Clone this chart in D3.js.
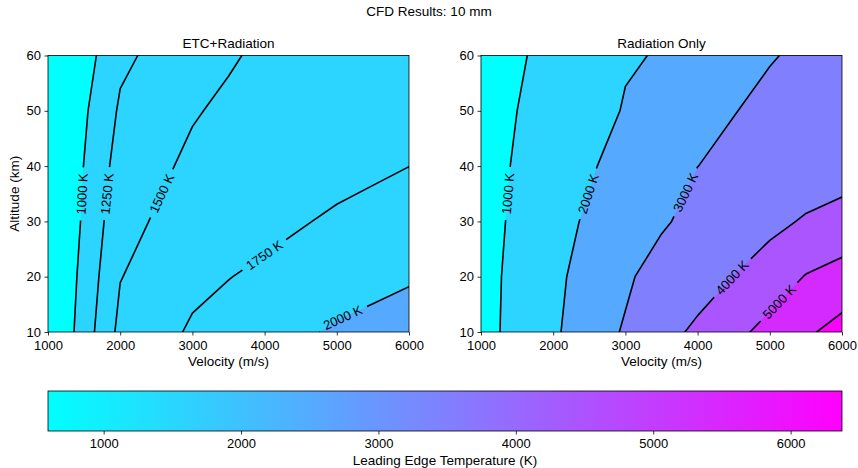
<!DOCTYPE html>
<html lang="en">
<head>
<meta charset="utf-8">
<style>
  body { margin: 0; background: #fff; }
  text { font-family: "Liberation Sans", Arial, sans-serif; fill: #000; }
  .tick text { font-size: 13px; }
  .tick line { stroke: #000; stroke-width: 0.8; }
  .title { font-size: 13.5px; }
  .clabel { font-size: 13px; }
  .frame { fill: none; stroke: #000; stroke-width: 0.8; }
  .cline { fill: none; stroke: #000; stroke-width: 1.6; stroke-linejoin: round; }
</style>
</head>
<body>
<svg width="858" height="468"></svg>
<script src="https://cdn.jsdelivr.net/npm/d3@7"></script>
<script>
// grid of the CFD runs
var velocities = [1000, 2000, 3000, 3500, 4000, 5000, 5500, 6000];
var altitudes = [10, 20, 30, 40, 50, 60];

// leading edge temperature (K), one row per altitude, one column per velocity
var etcRadiation = [
    [682, 1565, 1779, 1840, 1900, 2030, 2070, 2110],
    [672, 1492, 1694, 1744, 1794, 1890, 1933, 1976],
    [655, 1421, 1621, 1652, 1683, 1785, 1823, 1860],
    [662, 1351, 1550, 1583, 1615, 1672, 1711, 1749],
    [649, 1282, 1480, 1545, 1610, 1650, 1675, 1700],
    [590, 1202, 1400, 1473, 1546, 1600, 1625, 1650]
];
var radiationOnly = [
    [691, 1866, 3104, 3647, 4190, 5306, 5840, 6374],
    [681, 1807, 2837, 3450, 3548, 4479, 5045, 5300],
    [600, 1777, 2396, 2868, 3340, 3751, 4097, 4443],
    [639, 1531, 2300, 2650, 2995, 3400, 3420, 3436],
    [550, 1450, 2045, 2370, 2700, 3236, 3330, 3420],
    [595, 1227, 1943, 2037, 2131, 2941, 3164, 3388]
];

var fillLevels = [0, 1000, 2000, 3000, 4000, 5000, 6000, 7000];
var etcLevels = [1000, 1250, 1500, 1750, 2000];
var radLevels = [1000, 2000, 3000, 4000, 5000, 6000];

// where the inline labels sit: [level, velocity, altitude]
var etcLabelSpots = [[1000, 1470, 35], [1250, 1815, 35], [1500, 2590, 35], [1750, 3990, 24], [2000, 5080, 12.6]];
var radLabelSpots = [[1000, 1380, 35], [2000, 2480, 35], [3000, 3840, 35.2], [4000, 4470, 20], [5000, 5130, 15.4]];

var velocityTicks = [1000, 2000, 3000, 4000, 5000, 6000];
var altitudeTicks = [10, 20, 30, 40, 50, 60];
var colorbarTicks = [1000, 2000, 3000, 4000, 5000, 6000];
var tempMin = 595, tempMax = 6374;

// matplotlib "cool"
function cool(t) { return d3.rgb(255 * t, 255 * (1 - t), 255).formatHex(); }

var svg = d3.select("svg");
var plotTop = 55.5, plotBottom = 332, plotWidth = 361;

svg.append("text").attr("class", "title")
    .attr("x", 429).attr("y", 15.5).attr("text-anchor", "middle")
    .text("CFD Results: 10 mm");

var defs = svg.append("defs");

function drawPanel(idx, left, title, grid, levels, spots, showYLabel) {
    var x = d3.scaleLinear().domain([1000, 6000]).range([left, left + plotWidth]);
    var y = d3.scaleLinear().domain([10, 60]).range([plotBottom, plotTop]);
    var nx = velocities.length, ny = altitudes.length;
    var values = [].concat.apply([], grid);

    // grid index (cell centres at i + 0.5) -> data value
    var gx = d3.scaleLinear().domain(velocities.map(function (d, i) { return i + 0.5; })).range(velocities);
    var gy = d3.scaleLinear().domain(altitudes.map(function (d, i) { return i + 0.5; })).range(altitudes);
    var path = d3.geoPath(d3.geoTransform({
        point: function (px, py) { this.stream.point(x(gx(px)), y(gy(py))); }
    }));
    var contours = d3.contours().size([nx, ny]).smooth(true);

    defs.append("clipPath").attr("id", "clip" + idx)
        .append("rect")
        .attr("x", x(1000)).attr("y", y(60))
        .attr("width", x(6000) - x(1000)).attr("height", y(10) - y(60));

    var g = svg.append("g").attr("clip-path", "url(#clip" + idx + ")");
    g.append("rect")
        .attr("x", x(1000)).attr("y", y(60))
        .attr("width", x(6000) - x(1000)).attr("height", y(10) - y(60))
        .attr("fill", cool(0));

    var nb = fillLevels.length - 2;
    fillLevels.slice(1, fillLevels.length - 1).forEach(function (lv, i) {
        g.append("path")
            .attr("d", path(contours.contour(values, lv)))
            .attr("fill", cool((i + 1) / nb));
    });

    var mask = defs.append("mask").attr("id", "mask" + idx)
        .attr("maskUnits", "userSpaceOnUse")
        .attr("x", 0).attr("y", 0).attr("width", 858).attr("height", 468);
    mask.append("rect").attr("x", 0).attr("y", 0).attr("width", 858).attr("height", 468).attr("fill", "#fff");

    var lines = g.append("g").attr("mask", "url(#mask" + idx + ")");
    var lineNodes = {};
    levels.forEach(function (lv) {
        lineNodes[lv] = lines.append("path")
            .attr("class", "cline")
            .attr("d", path(contours.contour(values, lv)))
            .node();
    });

    var labelG = svg.append("g");
    spots.forEach(function (s) {
        var node = lineNodes[s[0]];
        var tx = x(s[1]), ty = y(s[2]);
        var L = node.getTotalLength(), best = 0, bestD = Infinity;
        for (var l = 0; l <= L; l += 0.5) {
            var p = node.getPointAtLength(l);
            var d = (p.x - tx) * (p.x - tx) + (p.y - ty) * (p.y - ty);
            if (d < bestD) { bestD = d; best = l; }
        }
        var p0 = node.getPointAtLength(Math.max(0, best - 3));
        var p1 = node.getPointAtLength(Math.min(L, best + 3));
        var pc = node.getPointAtLength(best);
        var ang = Math.atan2(p1.y - p0.y, p1.x - p0.x) * 180 / Math.PI;
        if (ang > 90) ang -= 180;
        if (ang <= -90) ang += 180;
        var t = labelG.append("text")
            .attr("class", "clabel")
            .attr("text-anchor", "middle")
            .attr("dy", "0.36em")
            .attr("transform", "translate(" + pc.x + "," + pc.y + ") rotate(" + ang + ")")
            .text(s[0] + " K");
        var w = t.node().getComputedTextLength() + 12;
        mask.append("rect")
            .attr("x", -w / 2).attr("y", -6).attr("width", w).attr("height", 12)
            .attr("fill", "#000")
            .attr("transform", "translate(" + pc.x + "," + pc.y + ") rotate(" + ang + ")");
    });

    svg.append("rect").attr("class", "frame")
        .attr("x", x(1000)).attr("y", y(60))
        .attr("width", x(6000) - x(1000)).attr("height", y(10) - y(60));

    var xa = svg.append("g").attr("transform", "translate(0," + plotBottom + ")")
        .call(d3.axisBottom(x).tickValues(velocityTicks).tickFormat(d3.format("d"))
            .tickSize(3.5).tickSizeOuter(0).tickPadding(5));
    xa.select(".domain").remove();
    xa.selectAll("text").attr("font-family", null).attr("font-size", null);

    var ya = svg.append("g").attr("transform", "translate(" + left + ",0)")
        .call(d3.axisLeft(y).tickValues(altitudeTicks).tickFormat(d3.format("d"))
            .tickSize(3.5).tickSizeOuter(0).tickPadding(3.5));
    ya.select(".domain").remove();
    ya.selectAll("text").attr("font-family", null).attr("font-size", null);

    svg.append("text").attr("class", "title")
        .attr("x", (x(1000) + x(6000)) / 2).attr("y", 48).attr("text-anchor", "middle")
        .text(title);
    svg.append("text").attr("class", "title")
        .attr("x", (x(1000) + x(6000)) / 2).attr("y", 366).attr("text-anchor", "middle")
        .text("Velocity (m/s)");
    if (showYLabel) {
        svg.append("text").attr("class", "title")
            .attr("transform", "translate(19," + (plotTop + plotBottom) / 2 + ") rotate(-90)")
            .attr("text-anchor", "middle")
            .text("Altitude (km)");
    }
}

drawPanel(0, 48, "ETC+Radiation", etcRadiation, etcLevels, etcLabelSpots, true);
drawPanel(1, 481, "Radiation Only", radiationOnly, radLevels, radLabelSpots, false);

// colorbar
var cb = d3.scaleLinear().domain([tempMin, tempMax]).range([48, 842]);
var grad = defs.append("linearGradient").attr("id", "coolGrad")
    .attr("x1", "0%").attr("x2", "100%").attr("y1", "0%").attr("y2", "0%");
d3.range(0, 1.0001, 0.1).forEach(function (t) {
    grad.append("stop").attr("offset", (t * 100) + "%").attr("stop-color", cool(t));
});
svg.append("rect")
    .attr("x", cb.range()[0]).attr("y", 391)
    .attr("width", cb.range()[1] - cb.range()[0]).attr("height", 40)
    .attr("fill", "url(#coolGrad)");
svg.append("rect").attr("class", "frame")
    .attr("x", cb.range()[0]).attr("y", 391)
    .attr("width", cb.range()[1] - cb.range()[0]).attr("height", 40);
var ca = svg.append("g").attr("transform", "translate(0,431)")
    .call(d3.axisBottom(cb).tickValues(colorbarTicks).tickFormat(d3.format("d"))
        .tickSize(3.5).tickSizeOuter(0).tickPadding(4));
ca.select(".domain").remove();
ca.selectAll("text").attr("font-family", null).attr("font-size", null);
svg.append("text").attr("class", "title")
    .attr("x", 445).attr("y", 465).attr("text-anchor", "middle")
    .text("Leading Edge Temperature (K)");
</script>
</body>
</html>
